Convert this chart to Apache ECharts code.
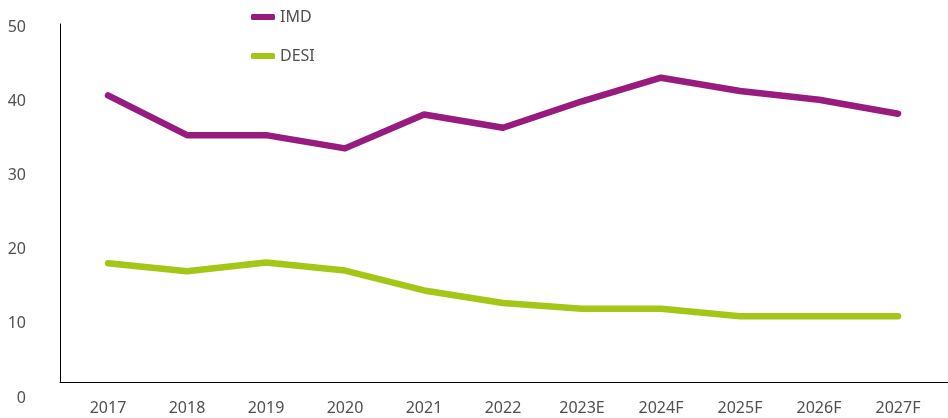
<!DOCTYPE html>
<html>
<head>
<meta charset="utf-8">
<script src="https://cdn.jsdelivr.net/npm/echarts@6/dist/echarts.min.js"></script>
<style>
  html, body { margin: 0; padding: 0; background: #fff; }
  #chart { width: 948px; height: 418px; }
</style>
</head>
<body>
<div id="chart"></div>
<script>
// data
var years = ['2017', '2018', '2019', '2020', '2021', '2022', '2023E', '2024F', '2025F', '2026F', '2027F'];
var imd = [40.3, 34.9, 34.9, 33.1, 37.7, 35.9, 39.5, 42.7, 40.9, 39.7, 37.8];
var desi = [17.5, 16.4, 17.6, 16.5, 13.8, 12.1, 11.3, 11.3, 10.3, 10.3, 10.3];
var yTicks = [0, 10, 20, 30, 40, 50];

var purple = '#981b80';
var green = '#a3c617';
var labelColor = '#505050';
var font = 'Noto Sans';

var chart = echarts.init(document.getElementById('chart'));

var hiddenAxis = {
    type: 'value',
    min: 0, max: 1,
    axisLine: { show: false },
    axisTick: { show: false },
    axisLabel: { show: false },
    splitLine: { show: false }
};
var lineAxis = {
    type: 'value',
    min: 0, max: 1,
    axisLine: { show: true, lineStyle: { color: '#000', width: 1 } },
    axisTick: { show: false },
    axisLabel: { show: false },
    splitLine: { show: false }
};

chart.setOption({
    animation: false,
    legend: {
        data: ['IMD', 'DESI'],
        orient: 'vertical',
        left: 246,
        top: 4,
        itemWidth: 24,
        itemHeight: 6,
        itemGap: 23,
        icon: 'roundRect',
        textStyle: { fontFamily: font, fontSize: 16, color: labelColor }
    },
    grid: [
        // data grid
        { left: 68.5, right: 10.5, top: 24, bottom: 26 },
        // axis lines only
        { left: 60, right: 0, top: 24, bottom: 36 },
        // y tick labels
        { left: 60, right: 0, top: 27, bottom: 20 }
    ],
    xAxis: [
        {
            gridIndex: 0,
            type: 'category',
            data: years,
            boundaryGap: true,
            axisLine: { show: false },
            axisTick: { show: false },
            axisLabel: { margin: 8, fontFamily: font, fontSize: 16, color: labelColor }
        },
        Object.assign({ gridIndex: 1 }, lineAxis),
        Object.assign({ gridIndex: 2 }, hiddenAxis)
    ],
    yAxis: [
        {
            gridIndex: 0,
            type: 'value',
            min: yTicks[0],
            max: yTicks[yTicks.length - 1],
            interval: 10,
            show: false
        },
        Object.assign({ gridIndex: 1 }, lineAxis),
        {
            gridIndex: 2,
            type: 'value',
            min: yTicks[0],
            max: yTicks[yTicks.length - 1],
            interval: 10,
            axisLine: { show: false },
            axisTick: { show: false },
            splitLine: { show: false },
            axisLabel: { margin: 34, fontFamily: font, fontSize: 16, color: labelColor }
        }
    ],
    series: [
        {
            name: 'IMD',
            type: 'line',
            data: imd,
            showSymbol: false,
            color: purple,
            lineStyle: { width: 6.5, cap: 'round', join: 'round' }
        },
        {
            name: 'DESI',
            type: 'line',
            data: desi,
            showSymbol: false,
            color: green,
            lineStyle: { width: 6.5, cap: 'round', join: 'round' }
        }
    ]
});
</script>
</body>
</html>
